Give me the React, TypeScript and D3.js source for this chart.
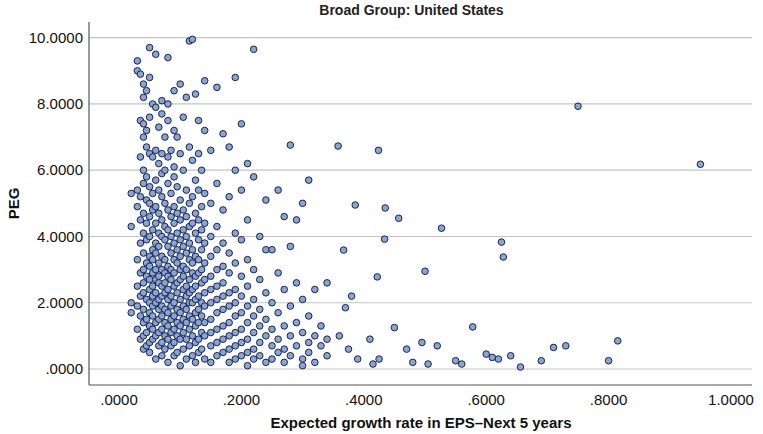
import * as d3 from "d3";

// Dense region, read column by column: [growth rate, PEG values]
const columns: [number, number[]][] = [
  [0.02, [5.3, 4.3, 2.0, 1.7]],
  [0.03, [9.3, 9.0, 5.4, 4.9, 3.3, 2.5, 1.9, 1.2]],
  [0.035, [8.9, 7.5, 6.4, 5.2, 4.5, 3.8, 2.9, 2.2, 1.6, 0.9]],
  [0.04, [8.6, 8.2, 7.4, 7.0, 6.0, 5.6, 4.7, 4.1, 3.5, 3.0, 2.6, 2.3, 1.8, 1.4, 1.0, 0.6]],
  [0.045, [8.4, 7.2, 6.7, 5.8, 5.1, 4.4, 3.9, 3.2, 2.8, 2.1, 1.5, 1.1, 0.7]],
  [0.05, [9.7, 8.8, 7.6, 6.5, 5.5, 5.0, 4.6, 4.0, 3.4, 3.1, 2.7, 2.4, 2.0, 1.7, 1.3, 0.8, 0.5]],
  [0.055, [8.0, 6.4, 5.3, 4.8, 4.2, 3.6, 3.3, 2.9, 2.5, 2.2, 1.9, 1.6, 1.2, 0.9]],
  [0.06, [9.5, 7.9, 6.6, 5.7, 4.9, 4.4, 3.8, 3.5, 3.0, 2.7, 2.3, 2.0, 1.4, 1.0, 0.3]],
  [0.065, [7.3, 6.2, 5.4, 4.7, 4.1, 3.7, 3.2, 2.8, 2.6, 2.1, 1.8, 1.5, 1.1, 0.7]],
  [0.07, [8.1, 7.7, 6.5, 5.9, 5.2, 4.5, 4.0, 3.4, 3.0, 2.5, 2.2, 1.9, 1.6, 1.2, 0.8, 0.4]],
  [0.075, [7.0, 6.0, 5.0, 4.3, 3.9, 3.3, 2.9, 2.6, 2.3, 1.8, 1.4, 1.0, 0.6]],
  [0.08, [9.4, 8.0, 7.5, 6.4, 5.6, 4.8, 4.2, 3.7, 3.1, 2.8, 2.4, 2.1, 1.7, 1.3, 0.9, 0.2]],
  [0.085, [6.6, 5.3, 4.6, 4.0, 3.5, 3.0, 2.7, 2.2, 1.9, 1.5, 1.1, 0.7]],
  [0.09, [8.4, 7.2, 6.1, 5.8, 4.9, 4.4, 3.8, 3.3, 2.9, 2.5, 2.0, 1.6, 1.2, 0.8, 0.4]],
  [0.095, [7.0, 5.5, 4.7, 4.1, 3.6, 3.2, 2.6, 2.3, 1.8, 1.4, 1.0, 0.5]],
  [0.1, [8.6, 6.5, 5.1, 4.5, 3.9, 3.4, 3.0, 2.7, 2.1, 1.7, 1.3, 0.9, 0.1]],
  [0.105, [7.6, 6.0, 4.8, 4.2, 3.7, 3.1, 2.8, 2.4, 1.9, 1.5, 1.1, 0.6]],
  [0.11, [8.2, 5.4, 4.6, 4.0, 3.5, 3.0, 2.5, 2.2, 1.8, 1.4, 0.9, 0.3]],
  [0.115, [9.9, 6.7, 5.0, 4.3, 3.8, 3.3, 2.7, 2.3, 2.0, 1.6, 1.2, 0.7]],
  [0.12, [9.95, 6.3, 5.2, 4.4, 3.6, 3.2, 2.9, 2.4, 2.0, 1.5, 1.0, 0.4]],
  [0.125, [8.3, 5.7, 4.7, 4.1, 3.4, 2.8, 2.5, 2.1, 1.7, 1.3, 0.8, 0.2]],
  [0.13, [7.5, 6.5, 5.4, 4.5, 3.9, 3.3, 2.9, 2.2, 1.8, 1.4, 0.9, 0.5]],
  [0.135, [6.0, 4.9, 4.2, 3.6, 3.0, 2.6, 2.0, 1.6, 1.1, 0.6]],
  [0.14, [8.7, 7.2, 5.3, 4.4, 3.8, 3.2, 2.7, 2.3, 1.9, 1.4, 1.0, 0.3]],
  [0.15, [6.6, 5.0, 4.0, 3.4, 2.8, 2.4, 2.0, 1.5, 1.1, 0.7, 0.2]],
  [0.16, [8.5, 5.6, 4.3, 3.6, 3.0, 2.5, 2.1, 1.7, 1.2, 0.8, 0.4]],
  [0.17, [7.1, 4.8, 3.8, 3.1, 2.6, 2.2, 1.8, 1.3, 0.9, 0.5]],
  [0.18, [6.7, 5.2, 3.5, 2.9, 2.3, 1.9, 1.4, 1.0, 0.6, 0.2]],
  [0.19, [8.8, 6.0, 4.1, 3.2, 2.4, 2.0, 1.6, 1.1, 0.7, 0.3]],
  [0.2, [7.4, 5.4, 3.9, 2.8, 2.2, 1.7, 1.2, 0.8, 0.4]],
  [0.21, [6.2, 4.5, 3.3, 2.5, 1.9, 1.4, 0.9, 0.5, 0.1]],
  [0.22, [9.65, 5.8, 3.0, 2.1, 1.6, 1.1, 0.6, 0.3]],
  [0.23, [4.0, 2.7, 1.8, 1.3, 0.8, 0.4]],
  [0.24, [5.1, 3.6, 2.3, 1.5, 1.0, 0.2]],
  [0.25, [3.6, 2.0, 1.2, 0.7, 0.3]],
  [0.26, [5.4, 2.9, 1.7, 0.9, 0.5]],
  [0.27, [4.6, 2.4, 1.3, 0.6, 0.2]],
  [0.28, [6.76, 3.7, 1.9, 1.0, 0.4]],
  [0.29, [4.5, 2.6, 1.4, 0.7]],
  [0.3, [5.0, 2.1, 1.1, 0.3, 0.1]],
  [0.31, [5.7, 1.6, 0.8, 0.5]],
  [0.32, [2.4, 1.0, 0.2]],
  [0.33, [1.3, 0.7]],
  [0.34, [2.6, 0.9, 0.4]],
];

// Sparse points on the right side: [growth rate, PEG]
const scattered: [number, number][] = [
  [0.358, 6.73], [0.367, 3.59], [0.386, 4.95], [0.37, 1.85], [0.38, 2.2],
  [0.424, 6.6], [0.435, 4.86], [0.457, 4.55], [0.434, 3.92], [0.422, 2.78],
  [0.36, 1.0], [0.375, 0.6], [0.39, 0.3], [0.41, 0.9], [0.415, 0.15],
  [0.425, 0.3], [0.45, 1.25], [0.47, 0.6], [0.48, 0.2], [0.495, 0.8],
  [0.5, 2.95], [0.505, 0.15], [0.527, 4.25], [0.52, 0.7], [0.55, 0.25],
  [0.56, 0.15], [0.578, 1.27], [0.6, 0.45], [0.61, 0.35], [0.62, 0.3],
  [0.625, 3.83], [0.628, 3.38], [0.64, 0.4], [0.656, 0.06], [0.69, 0.25],
  [0.71, 0.65], [0.73, 0.7], [0.75, 7.93], [0.8, 0.25], [0.815, 0.85],
  [0.95, 6.18],
];

const xTicks = [0, 0.2, 0.4, 0.6, 0.8, 1.0];
const yTicks = [0, 2, 4, 6, 8, 10];

const points: [number, number][] = [
  ...columns.flatMap(([x, ys]) => ys.map((y) => [x, y] as [number, number])),
  ...scattered,
];

const width = 763;
const height = 434;
const margin = { top: 22, right: 11, bottom: 49, left: 89 };
const fmt = (v: number) => (v >= 1 ? v.toFixed(4) : v.toFixed(4).replace(/^0/, ""));

export default function App() {
  const x = d3.scaleLinear().domain([0, 1]).range([119, 731]);
  const y = d3.scaleLinear().domain([0, 10]).range([369, 37.7]);
  const bottom = height - margin.bottom;
  const font = "Liberation Sans, Arial, sans-serif";

  return (
    <svg width={width} height={height} style={{ position: "absolute", left: 0, top: 0 }} fontFamily={font}>
      <rect width={width} height={height} fill="#fff" />
      <text x={width / 2 + 30} y={15} textAnchor="middle" fontSize={14} fontWeight="bold" fill="#222">
        Broad Group: United States
      </text>
      {yTicks.map((t) => (
        <g key={t}>
          <line x1={margin.left} x2={width - margin.right} y1={y(t)} y2={y(t)} stroke="#c4c4c4" strokeWidth={1.2} />
          <text x={margin.left - 6} y={y(t)} dy="0.35em" textAnchor="end" fontSize={15} fill="#111">
            {fmt(t)}
          </text>
        </g>
      ))}
      <line x1={margin.left} x2={margin.left} y1={margin.top} y2={bottom} stroke="#555" strokeWidth={1.2} />
      <line x1={margin.left} x2={width - margin.right} y1={bottom} y2={bottom} stroke="#555" strokeWidth={1.2} />
      {xTicks.map((t) => (
        <text key={t} x={x(t)} y={bottom + 20} textAnchor="middle" fontSize={15} fill="#111">
          {fmt(t)}
        </text>
      ))}
      <text x={(margin.left + width) / 2 - 5} y={428} textAnchor="middle" fontSize={15} fontWeight="bold" fill="#111">
        Expected growth rate in EPS–Next 5 years
      </text>
      <text transform={`translate(19, ${(margin.top + bottom) / 2}) rotate(-90)`} textAnchor="middle" fontSize={15} fontWeight="bold" fill="#111">
        PEG
      </text>
      {points.map(([px, py], i) => (
        <circle key={i} cx={x(px)} cy={y(py)} r={3.3} fill="#86a4de" stroke="#1c2640" strokeWidth={1} />
      ))}
    </svg>
  );
}
